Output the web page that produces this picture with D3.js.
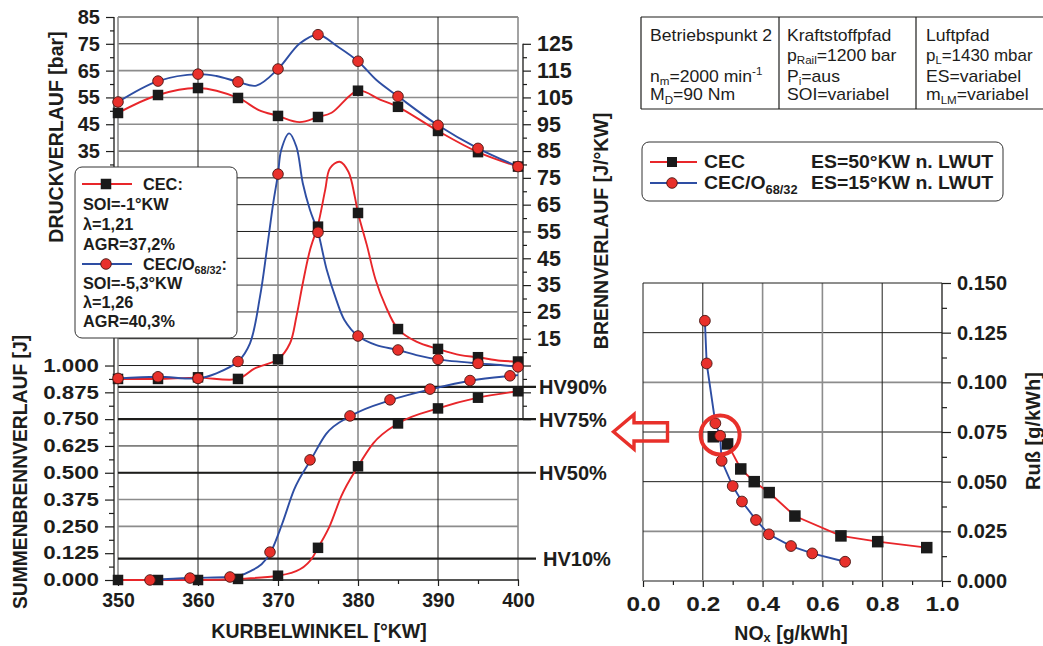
<!DOCTYPE html>
<html><head><meta charset="utf-8">
<script src="https://cdn.jsdelivr.net/npm/d3@7"></script>
<style>
html,body{margin:0;padding:0;background:#fff}
svg{display:block}
</style>
</head><body>
<svg id="c" width="1043" height="646"></svg>
<script>
// ---------------- DATA ----------------
// crank angle markers (°KW)
const crankAngles = [350,355,360,365,370,375,380,385,390,395,400];
// Druckverlauf [bar] markers
const pressureCEC  = [49.2,55.9,58.5,54.8,48.1,47.7,57.5,51.5,42.5,34.6,29.2];
const pressureCECO = [53.3,61.1,63.7,60.8,65.6,78.4,68.5,55.4,44.6,36.0,29.2];
// Druckverlauf line traces
const pressureCECLineAngles = [350,355,360,365,367.6,370,372.7,375,376.7,380,382.75,385,390,395,400];
const pressureCECLine       = [49.2,55.9,58.5,54.8,50.3,48.1,45.8,47.7,49.3,57.5,54.2,51.5,42.5,34.6,29.2];
const pressureCECOLineAngles = [350,355,360,362.3,365,367.3,370,372.75,375,377.5,380,382.3,385,390,395,400];
const pressureCECOLine       = [53.3,61.1,63.7,63.0,60.8,59.4,65.6,75.2,78.4,73.9,68.5,61.5,55.4,44.6,36.0,29.2];
// Brennverlauf [J/°KW] markers
const heatCEC  = [0.0,0.0,0.6,0.0,7.3,56.8,61.9,18.6,11.2,8.1,6.5];
const heatCECO = [0.2,0.8,0.2,6.5,76.4,54.7,16.0,10.8,7.3,5.8,4.5];
// Brennverlauf line traces
const heatCECLineAngles = [350,355,360,365,367.1,370,371.5,372.3,373.1,374,375,375.9,376.5,377.7,378.8,379.6,380,381.1,382.2,383.4,385,387.3,390,392.8,395,397.8,400];
const heatCECLine       = [0.0,0.0,0.5,0.0,3.9,7.3,13.3,23.2,35.7,48.1,57.5,70.5,78.6,81.0,77.3,68.0,61.9,50.0,37.0,27.5,18.6,13.9,11.2,8.9,8.1,6.8,6.5];
const heatCECOLineAngles = [350,355,360,362.3,365,366.5,367.75,368.6,369.4,370,370.4,371.4,372.3,373.1,374,375,376.1,377.3,378.3,380,382.3,385,387.3,390,395,397.8,400];
const heatCECOLine       = [0.2,0.8,0.2,2.1,6.5,13.3,30.7,48.1,65.5,76.4,85.4,91.6,86.6,73.0,63.0,54.7,40.6,29.4,22.0,16.0,12.6,10.8,8.9,7.3,5.8,5.2,4.5];
// Summenbrennverlauf [-] markers
const sumCEC = [0,0,0,0.005,0.02,0.15,0.53,0.73,0.80,0.85,0.88];
const sumCECOAngles = [354,359,364,369,374,379,384,389,394,399];
const sumCECO = [0,0.009,0.014,0.13,0.56,0.765,0.84,0.89,0.93,0.952];
// Summenbrennverlauf line traces
const sumCECLineAngles = [350,360,365,370,372.75,374.4,375,376.5,377.9,380,381.9,385,390,395,400];
const sumCECLine       = [0,0,0.005,0.02,0.05,0.11,0.15,0.255,0.39,0.53,0.637,0.73,0.80,0.85,0.88];
const sumCECOLineAngles = [354,359,364,366.5,369.1,370.5,372,374.1,376,379.1,384.2,389.2,394.2,399.2,400];
const sumCECOLine       = [0,0.009,0.014,0.04,0.13,0.26,0.42,0.56,0.68,0.765,0.84,0.89,0.93,0.952,0.955];
// HV marks
const hvLevels = [0.9,0.75,0.5,0.1];
const hvLabels = ["HV90%","HV75%","HV50%","HV10%"];
// Ruß - NOx trade-off
const noxCECO  = [0.207,0.213,0.242,0.258,0.263,0.300,0.331,0.378,0.421,0.495,0.566,0.676];
const sootCECO = [0.131,0.1095,0.0794,0.0731,0.0605,0.0478,0.040,0.0307,0.0235,0.0176,0.0139,0.0097];
const noxCEC   = [0.235,0.283,0.327,0.372,0.422,0.508,0.662,0.785,0.949];
const sootCEC  = [0.0726,0.069,0.0564,0.050,0.0445,0.0327,0.0227,0.0198,0.0168];
const highlightPoint = [0.258,0.0735];
// tick values
const pressureTicks = [85,75,65,55,45,35,25];
const heatTicks = [125,115,105,95,85,75,65,55,45,35,25,15,5,-5,-15];
const sumTicks = [0,0.125,0.25,0.375,0.5,0.625,0.75,0.875,1.0];
const angleTicks = [350,360,370,380,390,400];
const noxTicks = [0,0.2,0.4,0.6,0.8,1.0];
const sootTicks = [0,0.025,0.05,0.075,0.1,0.125,0.15];

// ---------------- DRAWING ----------------
const FONT = '"Liberation Sans", Arial, Helvetica, sans-serif';
const INK = "#1d1d1b", GRAY = "#8c8c8c";
const RED = "#e8262a", BLUE = "#2e4ea3", DOT = "#e8302b", DOTSTROKE = "#4a1512";
const svg = d3.select("#c").attr("font-family", FONT);

const step = (580-17)/21;
const xL = d3.scaleLinear([350,400],[118,518]);
const pY = d3.scaleLinear([85,75],[17,17+step]);
const hY = d3.scaleLinear([125,115],[17+step,17+2*step]);
const sY = d3.scaleLinear([0,1],[580,580-8*step]);
const xR = d3.scaleLinear([0,1],[643,942]);
const yR = d3.scaleLinear([0,0.15],[581,283]);

function rich(parent, x, y, segs, o) {
  const t = parent.append("text")
    .attr("transform", `translate(${x},${y}) scale(${o.sx||1},1)${o.rot?` rotate(${o.rot})`:""}`)
    .attr("font-size", o.size).attr("font-weight", o.bold ? "bold" : "normal")
    .attr("fill", o.fill || INK).attr("text-anchor", o.anchor || "start");
  let shift = 0;
  const subK = o.sub !== undefined ? o.sub : 0.26;
  segs.forEach(s => {
    const [str, kind] = typeof s === "string" ? [s, "n"] : s;
    const target = kind === "sub" ? o.size*subK : kind === "sup" ? -o.size*0.38 : 0;
    const sp = t.append("tspan").text(str).attr("dy", target - shift);
    if (kind !== "n") sp.attr("font-size", o.size*0.66);
    shift = target;
  });
  return t;
}

// ---------- left chart grid ----------
const gGrid = svg.append("g");
const rowVals = d3.range(85, -126, -10);
const grayRows = [65,55,45,-15,-25,-95,-105];
gGrid.selectAll("line.row").data(rowVals.slice(1,20)).join("line")
  .attr("x1", xL(350)).attr("x2", xL(400))
  .attr("y1", d=>pY(d)).attr("y2", d=>pY(d))
  .attr("stroke", d=>grayRows.includes(d)?GRAY:INK)
  .attr("stroke-width", d=>grayRows.includes(d)?1.6:1);
const colVals = [360,370,380,390];
gGrid.selectAll("line.col").data(colVals).join("line")
  .attr("x1", d=>xL(d)).attr("x2", d=>xL(d)).attr("y1", 17).attr("y2", 580)
  .attr("stroke", d=>(d===370||d===380)?GRAY:INK).attr("stroke-width", d=>(d===370||d===380)?1.6:1);
// borders
gGrid.append("line").attr("x1",xL(350)).attr("x2",xL(400)).attr("y1",17).attr("y2",17).attr("stroke",INK);
gGrid.append("line").attr("x1",xL(350)).attr("x2",xL(350)).attr("y1",17).attr("y2",580).attr("stroke",GRAY).attr("stroke-width",1.6);
gGrid.append("line").attr("x1",xL(400)).attr("x2",xL(400)).attr("y1",17).attr("y2",580).attr("stroke",GRAY).attr("stroke-width",1.6);
// HV lines
gGrid.selectAll("line.hv").data(hvLevels).join("line")
  .attr("x1", xL(350)).attr("x2", 536).attr("y1", d=>sY(d)).attr("y2", d=>sY(d))
  .attr("stroke", INK).attr("stroke-width", 2.2);
const hvLabelPos = [[539,393.5],[539,427],[539,480],[543,566]];
hvLabels.forEach((l,i)=> rich(svg, hvLabelPos[i][0], hvLabelPos[i][1], [l], {size:20, bold:true}));

// ---------- left axes ----------
function fixAxis(g, size) {
  g.attr("font-family", FONT).attr("font-size", size).attr("font-weight","bold");
  g.select(".domain").remove();
  g.selectAll(".tick line").attr("stroke", INK).attr("stroke-width",1.2);
  g.selectAll(".tick text").attr("fill", INK);
  return g;
}
svg.append("line").attr("x1",114).attr("x2",114).attr("y1",17).attr("y2",580).attr("stroke",INK).attr("stroke-width",1.3);
// pressure
fixAxis(svg.append("g").attr("transform","translate(114,0)")
  .call(d3.axisLeft(pY).tickValues(pressureTicks).tickSize(8).tickPadding(6).tickFormat(d3.format("d"))), 20);
fixAxis(svg.append("g").attr("transform","translate(114,0)")
  .call(d3.axisLeft(pY).tickValues([80,70,60,50,40,30]).tickSize(4).tickFormat("")), 10);
// summen
const sAx = fixAxis(svg.append("g").attr("transform","translate(114,0)")
  .call(d3.axisLeft(sY).tickValues(sumTicks).tickSize(9).tickPadding(6).tickFormat(d3.format(".3f"))), 17.7);
sAx.selectAll(".tick text").attr("transform","scale(1.26,1)").attr("x", -15/1.26);
fixAxis(svg.append("g").attr("transform","translate(114,0)")
  .call(d3.axisLeft(sY).tickValues(d3.range(0.0625,1,0.125)).tickSize(5).tickFormat("")), 10);
// Brennverlauf (right)
svg.append("line").attr("x1",523).attr("x2",523).attr("y1",hY(125)).attr("y2",hY(-15)).attr("stroke",INK).attr("stroke-width",1.3);
fixAxis(svg.append("g").attr("transform","translate(523,0)")
  .call(d3.axisRight(hY).tickValues(heatTicks).tickSize(8).tickPadding(6).tickFormat(d=> d>=15 ? d3.format("d")(d) : "")), 21.5);
fixAxis(svg.append("g").attr("transform","translate(523,0)")
  .call(d3.axisRight(hY).tickValues(d3.range(120,-15,-10)).tickSize(4).tickFormat("")), 10);
// x axis
svg.append("line").attr("x1",114).attr("x2",xL(400)+1).attr("y1",580).attr("y2",580).attr("stroke",INK).attr("stroke-width",1.6);
fixAxis(svg.append("g").attr("transform","translate(0,580)")
  .call(d3.axisBottom(xL).tickValues(angleTicks).tickSize(6).tickPadding(7).tickFormat(d3.format("d"))), 19.5);
fixAxis(svg.append("g").attr("transform","translate(0,580)")
  .call(d3.axisBottom(xL).tickValues([355,365,375,385,395]).tickSize(4).tickFormat("")), 10);

// axis titles
rich(svg, 56+7, 137, ["DRUCKVERLAUF [bar]"], {size:19.5, bold:true, anchor:"middle", rot:-90});
rich(svg, 20+7, 472, ["SUMMENBRENNVERLAUF [J]"], {size:19.3, bold:true, anchor:"middle", rot:-90});
rich(svg, 601+7, 231, ["BRENNVERLAUF [J/°KW]"], {size:19.5, bold:true, anchor:"middle", rot:-90});
rich(svg, 319, 638, ["KURBELWINKEL [°KW]"], {size:19.5, bold:true, anchor:"middle"});

// ---------- left curves ----------
const cat = d3.curveCatmullRom.alpha(0.5);
const lineP = d3.line().x(d=>xL(d[0])).y(d=>pY(d[1])).curve(cat);
const lineH = d3.line().x(d=>xL(d[0])).y(d=>hY(d[1])).curve(cat);
const lineS = d3.line().x(d=>xL(d[0])).y(d=>sY(d[1])).curve(d3.curveMonotoneX);
const gC = svg.append("g").attr("fill","none").attr("stroke-width",1.9);
gC.append("path").attr("d", lineP(d3.zip(pressureCECLineAngles, pressureCECLine))).attr("stroke", RED);
gC.append("path").attr("d", lineH(d3.zip(heatCECLineAngles, heatCECLine))).attr("stroke", RED);
gC.append("path").attr("d", lineS(d3.zip(sumCECLineAngles, sumCECLine))).attr("stroke", RED);
gC.append("path").attr("d", lineP(d3.zip(pressureCECOLineAngles, pressureCECOLine))).attr("stroke", BLUE);
gC.append("path").attr("d", lineH(d3.zip(heatCECOLineAngles, heatCECOLine))).attr("stroke", BLUE);
gC.append("path").attr("d", lineS(d3.zip(sumCECOLineAngles, sumCECOLine))).attr("stroke", BLUE);

function squares(parent, pts, size) {
  parent.selectAll(null).data(pts).join("rect")
    .attr("x", d=>d[0]-size/2).attr("y", d=>d[1]-size/2).attr("width", size).attr("height", size)
    .attr("fill", "#1a1a1a");
}
function dots(parent, pts, r) {
  parent.selectAll(null).data(pts).join("circle")
    .attr("cx", d=>d[0]).attr("cy", d=>d[1]).attr("r", r)
    .attr("fill", DOT).attr("stroke", DOTSTROKE).attr("stroke-width", 0.9);
}
const gM = svg.append("g");
squares(gM, crankAngles.map((a,i)=>[xL(a), pY(pressureCEC[i])]), 10.5);
squares(gM, crankAngles.map((a,i)=>[xL(a), hY(heatCEC[i])]), 10.5);
squares(gM, crankAngles.map((a,i)=>[xL(a), sY(sumCEC[i])]), 10.5);
dots(gM, crankAngles.map((a,i)=>[xL(a), pY(pressureCECO[i])]), 5.3);
dots(gM, crankAngles.map((a,i)=>[xL(a), hY(heatCECO[i])]), 5.3);
dots(gM, sumCECOAngles.map((a,i)=>[xL(a), sY(sumCECO[i])]), 5.3);

// ---------- left legend ----------
const gLeg = svg.append("g");
gLeg.append("rect").attr("x",75).attr("y",167).attr("width",162).attr("height",171).attr("rx",7)
  .attr("fill","#fff").attr("stroke","#333").attr("stroke-width",1);
gLeg.append("line").attr("x1",82).attr("x2",132).attr("y1",184).attr("y2",184).attr("stroke",RED).attr("stroke-width",1.9);
squares(gLeg, [[106,184]], 10.5);
gLeg.append("line").attr("x1",82).attr("x2",132).attr("y1",264).attr("y2",264).attr("stroke",BLUE).attr("stroke-width",1.9);
dots(gLeg, [[106,264]], 5.3);
const lo = {size:16.3, bold:true};
rich(gLeg, 143, 189.5, ["CEC:"], lo);
rich(gLeg, 83, 210, ["SOI=-1°KW"], lo);
rich(gLeg, 83, 230, ["λ=1,21"], lo);
rich(gLeg, 83, 250, ["AGR=37,2%"], lo);
rich(gLeg, 143, 270, ["CEC/O", ["68/32","sub"], ":"], lo);
rich(gLeg, 83, 289, ["SOI=-5,3°KW"], lo);
rich(gLeg, 83, 308, ["λ=1,26"], lo);
rich(gLeg, 83, 327, ["AGR=40,3%"], lo);

// ---------- table ----------
const gT = svg.append("g").attr("stroke", INK).attr("stroke-width",1.2);
[17,109].forEach(y=> gT.append("line").attr("x1",641).attr("x2",1043).attr("y1",y).attr("y2",y));
[641,779,916].forEach(x=> gT.append("line").attr("x1",x).attr("x2",x).attr("y1",17).attr("y2",109));
const to = {size:16, sx:1.1, sub:0.22};
rich(svg, 650, 40.5, ["Betriebspunkt 2"], to);
rich(svg, 650, 81.5, ["n", ["m","sub"], "=2000 min", ["-1","sup"]], to);
rich(svg, 650, 100, ["M", ["D","sub"], "=90 Nm"], to);
rich(svg, 787, 40.5, ["Kraftstoffpfad"], to);
rich(svg, 787, 60.5, ["p", ["Rail","sub"], "=1200 bar"], to);
rich(svg, 787, 81.5, ["P", ["i","sub"], "=aus"], to);
rich(svg, 787, 100, ["SOI=variabel"], to);
rich(svg, 926, 40.5, ["Luftpfad"], to);
rich(svg, 926, 60.5, ["p", ["L","sub"], "=1430 mbar"], {size:16, sx:1.06, sub:0.22});
rich(svg, 926, 81.5, ["ES=variabel"], to);
rich(svg, 926, 100, ["m", ["LM","sub"], "=variabel"], to);

// ---------- right legend ----------
const gR = svg.append("g");
gR.append("rect").attr("x",642).attr("y",142).attr("width",361).attr("height",59).attr("rx",7)
  .attr("fill","#fff").attr("stroke","#333").attr("stroke-width",1);
gR.append("line").attr("x1",650).attr("x2",697).attr("y1",162).attr("y2",162).attr("stroke",RED).attr("stroke-width",1.9);
squares(gR, [[672,162]], 10);
gR.append("line").attr("x1",650).attr("x2",697).attr("y1",183).attr("y2",183).attr("stroke",BLUE).attr("stroke-width",1.9);
dots(gR, [[672,183]], 5.3);
const ro = {size:18, bold:true, sx:1.08};
rich(gR, 704, 168, ["CEC"], ro);
rich(gR, 704, 189, ["CEC/O", ["68/32","sub"]], ro);
rich(gR, 811, 168, ["ES=50°KW n. LWUT"], ro);
rich(gR, 811, 189, ["ES=15°KW n. LWUT"], ro);

// ---------- right chart ----------
const gRG = svg.append("g");
[0.025,0.05,0.075,0.1,0.125].forEach(v=>{
  const g = (v===0.1||v===0.025);
  gRG.append("line").attr("x1",xR(0)).attr("x2",xR(1)).attr("y1",yR(v)).attr("y2",yR(v))
    .attr("stroke", g?GRAY:INK).attr("stroke-width", g?1.6:1);
});
[0.2,0.4,0.6,0.8].forEach(v=>{
  const g = (v===0.4||v===0.6);
  gRG.append("line").attr("x1",xR(v)).attr("x2",xR(v)).attr("y1",yR(0.15)).attr("y2",yR(0))
    .attr("stroke", g?GRAY:INK).attr("stroke-width", g?1.6:1);
});
gRG.append("line").attr("x1",xR(0)).attr("x2",xR(1)).attr("y1",yR(0.15)).attr("y2",yR(0.15)).attr("stroke",INK);
gRG.append("line").attr("x1",xR(0)).attr("x2",xR(0)).attr("y1",yR(0.15)).attr("y2",yR(0)).attr("stroke",INK);
gRG.append("line").attr("x1",xR(0)).attr("x2",xR(1)).attr("y1",yR(0)).attr("y2",yR(0)).attr("stroke",GRAY).attr("stroke-width",1.8);
gRG.append("line").attr("x1",xR(1)).attr("x2",xR(1)).attr("y1",yR(0.15)).attr("y2",yR(0)).attr("stroke",INK).attr("stroke-width",1.3);
const xRAx = fixAxis(svg.append("g").attr("transform",`translate(0,${yR(0)})`)
  .call(d3.axisBottom(xR).tickValues(noxTicks).tickSize(6).tickPadding(10).tickFormat(d3.format(".1f"))), 19.5);
xRAx.selectAll(".tick text").attr("transform","scale(1.25,1)");
fixAxis(svg.append("g").attr("transform",`translate(0,${yR(0)})`)
  .call(d3.axisBottom(xR).tickValues([0.1,0.3,0.5,0.7,0.9]).tickSize(4).tickFormat("")), 10);
fixAxis(svg.append("g").attr("transform",`translate(${xR(1)},0)`)
  .call(d3.axisRight(yR).tickValues(sootTicks).tickSize(9).tickPadding(6).tickFormat(d3.format(".3f"))), 20);
fixAxis(svg.append("g").attr("transform",`translate(${xR(1)},0)`)
  .call(d3.axisRight(yR).tickValues([0.0125,0.0375,0.0625,0.0875,0.1125,0.1375]).tickSize(5).tickFormat("")), 10);
rich(svg, 791, 639.5, ["NO", ["x","sub"], " [g/kWh]"], {size:19.5, bold:true, anchor:"middle", sub:0.12});
rich(svg, 1033+7, 431, ["Ruß [g/kWh]"], {size:20, bold:true, anchor:"middle", rot:-90});

const lineR = d3.line().x(d=>xR(d[0])).y(d=>yR(d[1]));
svg.append("path").attr("d", lineR(d3.zip(noxCEC, sootCEC))).attr("fill","none").attr("stroke",RED).attr("stroke-width",1.9);
svg.append("path").attr("d", lineR(d3.zip(noxCECO, sootCECO))).attr("fill","none").attr("stroke",BLUE).attr("stroke-width",1.9);
const gRM = svg.append("g");
squares(gRM, noxCEC.map((v,i)=>[xR(v), yR(sootCEC[i])]), 11.5);
dots(gRM, noxCECO.map((v,i)=>[xR(v), yR(sootCECO[i])]), 5.4);

// highlight circle
svg.append("circle").attr("cx", xR(highlightPoint[0])).attr("cy", yR(highlightPoint[1])).attr("r", 19.5)
  .attr("fill","none").attr("stroke","#e8302a").attr("stroke-width",4);

// hollow arrow pointing left
const arrowPts = [[613.5,431.7],[634,414.5],[634,422.7],[667.5,422.7],[667.5,441],[634,441],[634,449]];
svg.append("path").attr("d", d3.line()(arrowPts)+"Z").attr("fill","none")
  .attr("stroke","#e8302a").attr("stroke-width",3.4).attr("stroke-linejoin","miter");
</script>
</body></html>
